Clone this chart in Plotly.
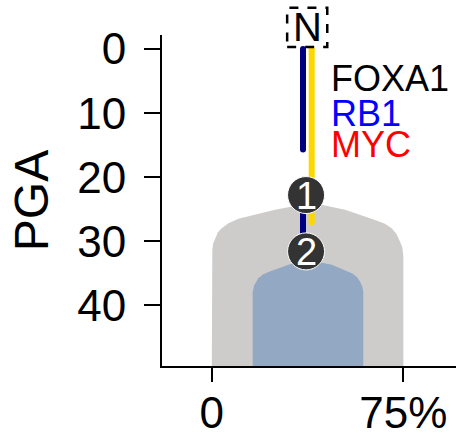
import plotly.graph_objects as go

# --- data -------------------------------------------------------------
# outline of the grey (all samples) distribution: x in %, y in PGA
grey_x = [0, 0, 0.2, 0.5, 1.3, 2.4, 3.9, 6.5, 10.4, 24.8, 39.1,
          52.2, 63.9, 67.8, 70.4, 72.3, 73.7, 74.6, 75, 75, 0]
grey_y = [49.5, 32.6, 31.4, 30.4, 29.5, 28.6, 28.0, 27.2, 26.5, 25.1, 24.0,
          25.1, 26.7, 27.3, 28.0, 28.9, 30.1, 31.0, 32.4, 49.5, 49.5]
# outline of the blue (subset) distribution
blue_x = [16.0, 16.0, 16.6, 18.2, 20.0, 22.2, 30.0, 37.2, 47.0, 54.8,
          56.8, 58.0, 58.9, 59.3, 59.3, 16.0]
blue_y = [49.5, 38.0, 36.9, 35.8, 35.2, 34.8, 33.7, 32.9, 33.7, 35.0,
          35.6, 36.3, 37.1, 38.0, 49.5, 49.5]

# lineage segments (x position in %, PGA start/end)
navy_x = [35.7, 35.7, None, 35.7, 35.7]
navy_y = [0, 15.7, None, 22.8, 31.6]
gold_x = [39.1, 39.1]
gold_y = [0, 27.1]

# numbered nodes
node_x = [36.9, 36.9]
node_y = [22.8, 31.6]
node_labels = ["1", "2"]

genes = ["FOXA1", "RB1", "MYC"]
gene_colors = ["#000000", "#0000ff", "#ff0000"]
gene_y = [4.6, 10.1, 14.9]

y_ticks = [0, 10, 20, 30, 40]
x_ticks = [0, 75]
x_ticktext = ["0", "75%"]

FONT = "Liberation Sans, Arial, sans-serif"

fig = go.Figure()
fig.add_trace(go.Scatter(x=grey_x, y=grey_y, fill="toself", mode="lines",
                         line=dict(width=0, color="#cdcccb"),
                         fillcolor="#cdcccb", hoverinfo="skip"))
fig.add_trace(go.Scatter(x=blue_x, y=blue_y, fill="toself", mode="lines",
                         line=dict(width=0, color="#92a8c3"),
                         fillcolor="#92a8c3", hoverinfo="skip"))
fig.add_trace(go.Scatter(x=navy_x, y=navy_y, mode="lines+markers",
                         line=dict(width=6, color="#000080"),
                         marker=dict(size=6, color="#000080"),
                         connectgaps=False))
fig.add_trace(go.Scatter(x=gold_x, y=gold_y, mode="lines+markers",
                         line=dict(width=6, color="#ffd700"),
                         marker=dict(size=6, color="#ffd700")))
fig.add_trace(go.Scatter(x=node_x, y=node_y, mode="markers",
                         marker=dict(size=37, color="#333333",
                                     line=dict(width=1, color="#ffffff"))))
for nx, ny, nl in zip(node_x, node_y, node_labels):
    fig.add_annotation(x=nx, y=ny, text=nl, showarrow=False,
                       font=dict(family=FONT, size=38, color="white"),
                       xanchor="center", yanchor="middle", yshift=-1)

for g, c, gy in zip(genes, gene_colors, gene_y):
    fig.add_annotation(x=45.9, y=gy, text=g, showarrow=False,
                       font=dict(family=FONT, size=36, color=c),
                       xanchor="left", yanchor="middle")

# dashed "N" box at the top
fig.add_shape(type="rect", xref="x", yref="paper",
              x0=29.5, x1=45.2, y0=0.964, y1=1.082,
              line=dict(color="black", width=2.5, dash="dash"),
              layer="above")
fig.add_annotation(x=37.3, xref="x", y=1.024, yref="paper", text="N",
                   showarrow=False, xanchor="center", yanchor="middle",
                   font=dict(family=FONT, size=40, color="black"))

fig.update_layout(
    width=456, height=437,
    margin=dict(l=162, r=0, t=35, b=71),
    plot_bgcolor="white", paper_bgcolor="white",
    showlegend=False,
    font=dict(family=FONT, color="black"),
)
fig.update_xaxes(range=[-19.5, 95.6], showgrid=False, zeroline=False,
                 showline=True, linecolor="black", linewidth=2,
                 ticks="outside", ticklen=14, tickwidth=2, tickcolor="black",
                 tickvals=x_ticks, ticktext=x_ticktext, automargin=False,
                 ticklabelstandoff=-7,
                 tickfont=dict(size=44, family=FONT))
fig.update_yaxes(range=[49.5, -2.2], showgrid=False, zeroline=False,
                 showline=True, linecolor="black", linewidth=2,
                 ticks="outside", ticklen=16, tickwidth=2, tickcolor="black",
                 tickvals=y_ticks, tickfont=dict(size=44, family=FONT),
                 automargin=False, ticklabelstandoff=9,
                 title=dict(text="PGA", font=dict(size=48, family=FONT),
                            standoff=13))

fig.write_html("out.html", config={"displayModeBar": False},
               post_script="document.body.style.margin='0';"
                           "document.body.style.overflow='hidden';")
